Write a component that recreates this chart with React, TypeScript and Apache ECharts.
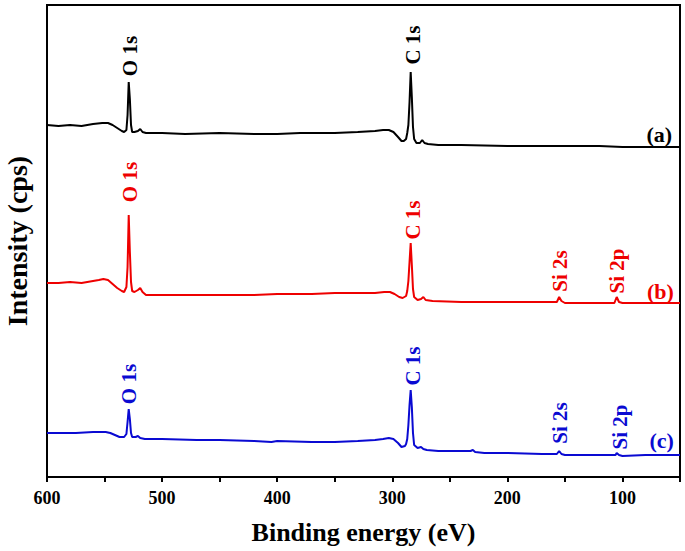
import React, { useEffect, useRef } from "react";
import * as echarts from "echarts";

// Binding energy (eV) vs intensity (arbitrary units, stacked/offset traces)
const traceA: [number, number][] = [
  [600, 352], [590, 351], [580, 352], [570, 351], [560, 353], [552, 354], [547, 354], [543, 352],
  [539, 349], [535, 346], [533, 345], [531, 347], [530, 362], [529, 395], [528, 378], [527, 352],
  [526, 345], [524, 345], [521, 346], [519, 348], [517, 345], [514, 344], [500, 344], [480, 343],
  [450, 344], [420, 343], [400, 343], [380, 344], [350, 344], [330, 345], [315, 346], [308, 347],
  [303, 347], [299, 345], [295, 340], [292, 336], [290, 336], [288, 338], [287, 344], [286, 352],
  [285, 375], [284, 405], [283, 380], [282, 350], [281, 338], [279, 334], [276, 334], [274, 337],
  [272, 334], [269, 333], [260, 332], [240, 332], [200, 331], [150, 331], [120, 331], [100, 330],
  [75, 330], [50, 330],
];

const traceB: [number, number][] = [
  [600, 194], [590, 194], [580, 195], [570, 194], [560, 196], [555, 197], [551, 198], [547, 197],
  [543, 193], [539, 189], [535, 186], [533, 185], [531, 190], [530, 210], [529, 262], [528, 225],
  [527, 195], [526, 186], [524, 185], [521, 187], [519, 189], [517, 185], [514, 182], [500, 182],
  [470, 182], [450, 182], [420, 182], [400, 183], [370, 183], [350, 184], [330, 184], [315, 184],
  [307, 185], [302, 185], [298, 183], [294, 180], [291, 179], [288, 181], [287, 186], [286, 196],
  [285, 215], [284, 234], [283, 212], [282, 188], [281, 180], [278, 177], [275, 178], [273, 180],
  [271, 177], [265, 176], [240, 175], [200, 175], [170, 175], [160, 175], [157, 175], [155, 180],
  [153, 176], [150, 174], [130, 174], [110, 174], [107, 174], [105, 180], [103, 175], [100, 174],
  [80, 174], [50, 174],
];

const traceC: [number, number][] = [
  [600, 44], [590, 44], [575, 44], [560, 45], [553, 45], [549, 45], [545, 44], [541, 42],
  [537, 40], [533, 40], [531, 43], [530, 55], [529, 68], [528, 58], [527, 44], [526, 40],
  [523, 40], [521, 41], [519, 39], [515, 38], [500, 38], [470, 37], [450, 37], [420, 36],
  [405, 35], [400, 36], [370, 35], [350, 35], [330, 36], [315, 37], [308, 38], [303, 39],
  [299, 38], [295, 34], [292, 30], [289, 31], [288, 33], [287, 38], [286, 52], [285, 72],
  [284, 87], [283, 70], [282, 44], [281, 32], [278, 29], [275, 30], [273, 28], [270, 27],
  [260, 26], [240, 26], [232, 26], [230, 27], [228, 25], [220, 24], [200, 24], [170, 23],
  [158, 23], [157, 23], [155, 26], [153, 23], [150, 22], [130, 22], [108, 22], [106, 22],
  [105, 24], [103, 22], [100, 21], [80, 22], [50, 22],
];

// Peak annotations: [label, binding energy, label centre height]
const labelsA: [string, number, number][] = [
  ["O 1s", 528, 421],
  ["C 1s", 282, 432],
];
const labelsB: [string, number, number][] = [
  ["O 1s", 528, 295],
  ["C 1s", 282, 257],
  ["Si 2s", 154.5, 206],
  ["Si 2p", 104.5, 206],
];
const labelsC: [string, number, number][] = [
  ["O 1s", 528.5, 93],
  ["C 1s", 282, 111],
  ["Si 2s", 154, 54],
  ["Si 2p", 102, 50],
];
// Trace tags: [tag, binding energy, height]
const tags: [string, number, number][] = [
  ["(a)", 68, 343],
  ["(b)", 67, 186],
  ["(c)", 66, 37],
];

const COLORS = ["#000000", "#ee0000", "#0a0ad2"];
const FONT = "'Liberation Serif', 'Times New Roman', serif";

export default function App() {
  const ref = useRef<HTMLDivElement>(null);
  useEffect(() => {
    if (!ref.current) return;
    const chart = echarts.init(ref.current, null, { renderer: "svg" });
    const lineSeries = [traceA, traceB, traceC].map((d, i) => ({
      type: "line",
      data: d,
      showSymbol: false,
      symbol: "none",
      lineStyle: { color: COLORS[i], width: 2 },
      silent: true,
      z: 2,
    }));
    const labelSeries = [labelsA, labelsB, labelsC].map((arr, i) => ({
      type: "scatter",
      symbolSize: 0,
      silent: true,
      itemStyle: { opacity: 1, color: COLORS[i] },
      data: arr.map(([n, x, y]) => ({ name: n, value: [x, y] })),
      label: {
        show: true,
        position: "inside",
        rotate: 90,
        opacity: 1,
        formatter: (p: any) => p.name,
        fontFamily: FONT,
        fontWeight: "bold",
        fontSize: 21,
        color: COLORS[i],
      },
      z: 3,
    }));
    const tagSeries = tags.map(([n, x, y], i) => ({
      type: "scatter",
      symbolSize: 0,
      silent: true,
      itemStyle: { opacity: 1, color: COLORS[i] },
      data: [{ name: n, value: [x, y] }],
      label: {
        show: true,
        position: "inside",
        opacity: 1,
        formatter: (p: any) => p.name,
        fontFamily: FONT,
        fontWeight: "bold",
        fontSize: 22,
        color: COLORS[i],
      },
      z: 3,
    }));
    chart.setOption({
      animation: false,
      backgroundColor: "#ffffff",
      grid: {
        left: 47,
        right: 5,
        top: 5,
        bottom: 74,
        outerBoundsMode: "none",
        containLabel: false,
        show: true,
        borderColor: "#000",
        borderWidth: 2,
      },
      xAxis: {
        type: "value",
        inverse: true,
        min: 50,
        max: 600,
        interval: 50,
        name: "Binding energy (eV)",
        nameLocation: "middle",
        nameGap: 42,
        nameTextStyle: {
          fontFamily: FONT,
          fontWeight: "bold",
          fontSize: 26,
          color: "#000",
        },
        axisLine: { show: true, lineStyle: { color: "#000", width: 2 } },
        axisTick: { show: true, inside: false, length: 5, lineStyle: { color: "#000", width: 2 } },
        axisLabel: {
          margin: 12,
          fontFamily: FONT,
          fontWeight: "bold",
          fontSize: 18,
          color: "#000",
          showMinLabel: true,
          showMaxLabel: true,
          formatter: (v: number) => (v % 100 === 0 ? String(v) : ""),
        },
        splitLine: { show: false },
      },
      yAxis: {
        type: "value",
        min: 0,
        max: 472,
        name: "Intensity (cps)",
        nameLocation: "middle",
        nameGap: 16,
        nameTextStyle: {
          fontFamily: FONT,
          fontWeight: "bold",
          fontSize: 28,
          color: "#000",
        },
        axisLine: { show: true, lineStyle: { color: "#000", width: 2 } },
        axisTick: { show: false },
        axisLabel: { show: false },
        splitLine: { show: false },
      },
      series: [...lineSeries, ...labelSeries, ...tagSeries],
    });
    return () => chart.dispose();
  }, []);
  return (
    <div
      ref={ref}
      style={{ position: "fixed", left: 0, top: 0, width: 685, height: 551, background: "#fff" }}
    />
  );
}
